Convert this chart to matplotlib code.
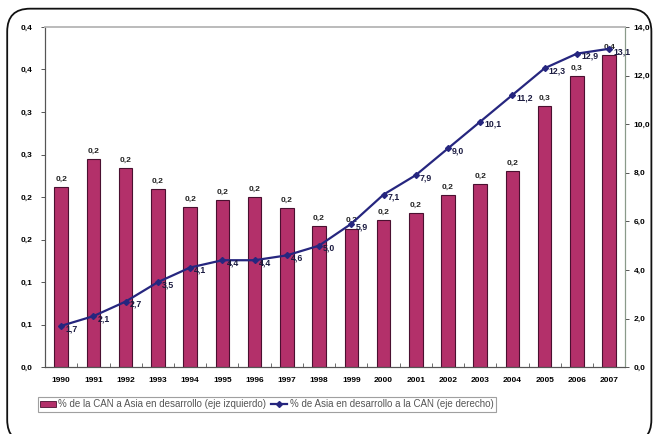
from decimal import Decimal, ROUND_HALF_UP

import numpy as np
import matplotlib
matplotlib.use("Agg")
import matplotlib.pyplot as plt
from matplotlib.patches import FancyBboxPatch
from matplotlib.ticker import FuncFormatter, MultipleLocator

plt.rcParams['font.family'] = ['Liberation Sans', 'DejaVu Sans']

# Datos
years = [1990, 1991, 1992, 1993, 1994, 1995, 1996, 1997, 1998,
         1999, 2000, 2001, 2002, 2003, 2004, 2005, 2006, 2007]
can_to_asia = [0.212, 0.245, 0.234, 0.210, 0.188, 0.197, 0.200, 0.187, 0.166,
               0.163, 0.173, 0.181, 0.202, 0.215, 0.231, 0.307, 0.342, 0.367]
asia_to_can = [1.7, 2.1, 2.7, 3.5, 4.1, 4.4, 4.4, 4.6, 5.0,
               5.9, 7.1, 7.9, 9.0, 10.1, 11.2, 12.3, 12.9, 13.1]

label_left = "% de la CAN a Asia en desarrollo (eje izquierdo)"
label_right = "% de Asia en desarrollo a la CAN (eje derecho)"

bar_color = "#b3306a"
bar_edge = "#4a1030"
line_color = "#26267f"


def coma(v, pos=None):
    # redondeo tipo Excel (mitad hacia arriba) con coma decimal
    d = Decimal(str(round(v, 6))).quantize(Decimal("0.1"), rounding=ROUND_HALF_UP)
    return str(d).replace(".", ",")


fig = plt.figure(figsize=(6.54, 4.34), dpi=100)
ax = fig.add_axes([0.069, 0.154, 0.887, 0.784])
ax2 = ax.twinx()

x = np.arange(len(years))
ax.bar(x, can_to_asia, width=0.42, color=bar_color, edgecolor=bar_edge,
       linewidth=0.8, zorder=2)
for xi, v in zip(x, can_to_asia):
    ax.annotate(coma(v), (xi, v), xytext=(0, 3), textcoords="offset points",
                ha="center", va="bottom", fontsize=6, fontweight="bold",
                color="#222222")

ax2.plot(x, asia_to_can, color=line_color, linewidth=1.6, marker="D",
         markersize=3, markerfacecolor=line_color, zorder=3)
for xi, v in zip(x, asia_to_can):
    ax2.annotate(coma(v), (xi, v), xytext=(3, -2), textcoords="offset points",
                 ha="left", va="center", fontsize=6.3, fontweight="bold",
                 color="#1a1a40")

ax.set_xlim(-0.5, len(years) - 0.5)
ax.set_ylim(0, 0.4)
ax2.set_ylim(0, 14)
ax.yaxis.set_major_locator(MultipleLocator(0.05))
ax.yaxis.set_major_formatter(FuncFormatter(coma))
ax2.yaxis.set_major_locator(MultipleLocator(2))
ax2.yaxis.set_major_formatter(FuncFormatter(coma))

ax.set_xticks(x)
ax.set_xticklabels([str(y) for y in years])
ax.set_xticks(np.arange(len(years) + 1) - 0.5, minor=True)
ax.tick_params(axis="x", which="major", length=0, pad=7)
ax.tick_params(axis="x", which="minor", length=3, direction="in", color="#555555")

ax.tick_params(axis="y", length=3, width=0.7, color="#555555", labelsize=6, pad=6)
ax2.tick_params(axis="y", length=3, width=0.7, color="#555555", labelsize=6, pad=3)
for a in (ax, ax2):
    for lbl in a.get_yticklabels():
        lbl.set_fontweight("bold")
for lbl in ax.get_xticklabels():
    lbl.set_fontweight("bold")
    lbl.set_fontsize(6)

for a in (ax, ax2):
    a.spines["top"].set_color("#bbbbbb")
    a.spines["left"].set_color("#555555")
    a.spines["right"].set_color("#8a9a8a")
    a.spines["bottom"].set_color("#555555")
    a.spines["top"].set_linewidth(1.2)

# Leyenda
h1 = plt.Rectangle((0, 0), 1, 1, facecolor=bar_color, edgecolor=bar_edge, linewidth=0.6)
h2, = ax2.plot([], [], color=line_color, linewidth=1.6, marker="D", markersize=3)
leg = fig.legend([h1, h2], [label_left, label_right], ncol=2, loc="center left",
                 bbox_to_anchor=(0.05, 0.068), fontsize=7, frameon=True,
                 fancybox=False, borderpad=0.25, handlelength=1.6,
                 handletextpad=0.3, columnspacing=0.5, labelcolor="#555555")
leg.get_frame().set_edgecolor("#888888")
leg.get_frame().set_linewidth(0.8)

# Marco redondeado exterior
frame = FancyBboxPatch((0.011, -0.02), 0.985, 1.0, transform=fig.transFigure,
                       boxstyle="round,pad=0,rounding_size=0.035",
                       facecolor="none", edgecolor="#111111", linewidth=1.3,
                       clip_on=False, mutation_aspect=654 / 434)
fig.patches.append(frame)

fig.savefig("out.png", dpi=100)
